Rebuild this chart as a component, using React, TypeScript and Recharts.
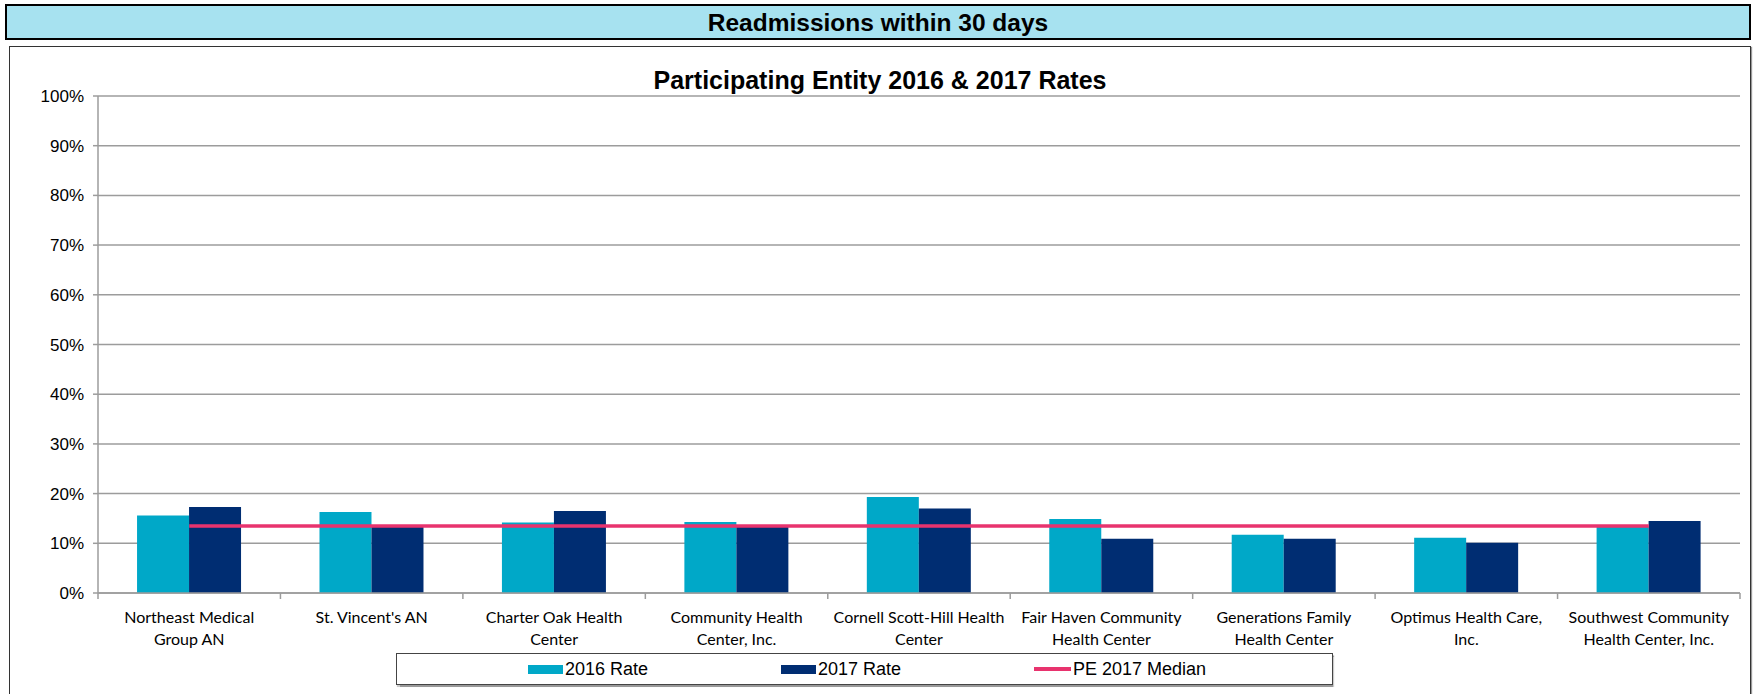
import { Bar, CartesianGrid, ComposedChart, Line, XAxis, YAxis } from 'recharts'

const categories = [
  'Northeast Medical\nGroup AN',
  "St. Vincent's AN",
  'Charter Oak Health\nCenter',
  'Community Health\nCenter, Inc.',
  'Cornell Scott-Hill Health\nCenter',
  'Fair Haven Community\nHealth Center',
  'Generations Family\nHealth Center',
  'Optimus Health Care,\nInc.',
  'Southwest Community\nHealth Center, Inc.',
]
const rate2016 = [15.6, 16.3, 14.2, 14.3, 19.3, 14.9, 11.7, 11.1, 13.4]
const rate2017 = [17.3, 13.3, 16.5, 13.3, 17.0, 10.9, 10.9, 10.1, 14.5]
const median2017 = [13.5, 13.5, 13.5, 13.5, 13.5, 13.5, 13.5, 13.5, 13.5]
const yTicks = [0, 10, 20, 30, 40, 50, 60, 70, 80, 90, 100]

const C2016 = '#00A8C8'
const C2017 = '#002D72'
const CMED = '#E8336E'
const GRID = '#9C9C9C'

const W = 1754
const H = 694
const PLOT_LEFT = 98
const PLOT_RIGHT = 1740
const PLOT_TOP = 96
const PLOT_BOTTOM = 593
const BAND = (PLOT_RIGHT - PLOT_LEFT) / categories.length

const data = categories.map((name, i) => ({
  name,
  r2016: rate2016[i],
  r2017: rate2017[i],
  median: median2017[i],
}))

const legendItems = [
  { label: '2016 Rate', color: C2016, type: 'rect' },
  { label: '2017 Rate', color: C2017, type: 'rect' },
  { label: 'PE 2017 Median', color: CMED, type: 'line' },
]

function CategoryTick(props: any) {
  const { x, y, payload, index } = props
  const lines = String(payload.value).split('\n')
  const last = index === categories.length - 1
  return (
    <g>
      <line x1={x - BAND / 2} x2={x - BAND / 2} y1={y} y2={y + 6} stroke={GRID} strokeWidth={1.5} />
      {last && <line x1={x + BAND / 2} x2={x + BAND / 2} y1={y} y2={y + 6} stroke={GRID} strokeWidth={1.5} />}
      {lines.map((t, i) => (
        <text
          key={i}
          x={x}
          y={y + 30 + i * 22}
          textAnchor="middle"
          fontFamily="Lato, 'Open Sans', sans-serif"
          fontSize={16}
          fill="#000"
        >
          {t}
        </text>
      ))}
    </g>
  )
}

export default function App() {
  return (
    <div
      style={{
        position: 'absolute',
        left: 0,
        top: 0,
        width: W,
        height: H,
        overflow: 'hidden',
        background: '#fff',
        fontFamily: "'Liberation Sans', Arial, sans-serif",
      }}
    >
      {/* header band */}
      <div
        style={{
          position: 'absolute',
          left: 5,
          top: 4,
          width: 1746,
          height: 36,
          boxSizing: 'border-box',
          border: '2px solid #000',
          background: '#A7E2F0',
          textAlign: 'center',
          fontWeight: 'bold',
          fontSize: 24.5,
          lineHeight: '33px',
          color: '#000',
        }}
      >
        Readmissions within 30 days
      </div>

      {/* chart frame */}
      <div
        style={{
          position: 'absolute',
          left: 9,
          top: 46,
          width: 1742,
          height: 720,
          boxSizing: 'border-box',
          border: '1.5px solid #333',
          boxShadow: '1px 1px 1px #999',
        }}
      />

      <div
        style={{
          position: 'absolute',
          left: 9,
          top: 65,
          width: 1742,
          textAlign: 'center',
          fontWeight: 'bold',
          fontSize: 25,
          lineHeight: '30px',
          color: '#000',
        }}
      >
        Participating Entity 2016 &amp; 2017 Rates
      </div>

      <div style={{ position: 'absolute', left: 0, top: 0 }}>
        <ComposedChart
          width={W}
          height={H}
          data={data}
          margin={{ top: PLOT_TOP, right: W - PLOT_RIGHT, bottom: H - PLOT_BOTTOM - 60, left: 0 }}
          barCategoryGap="21.4%"
          barGap={0}
        >
          <CartesianGrid vertical={false} stroke={GRID} strokeWidth={1.5} />
          <XAxis
            dataKey="name"
            height={60}
            interval={0}
            tickLine={false}
            tickSize={0}
            tickMargin={0}
            axisLine={{ stroke: GRID, strokeWidth: 1.5 }}
            tick={<CategoryTick />}
          />
          <YAxis
            width={PLOT_LEFT}
            domain={[0, 100]}
            ticks={yTicks}
            interval={0}
            tickSize={5}
            tickMargin={9}
            tickFormatter={(v: number) => `${v}%`}
            axisLine={{ stroke: GRID, strokeWidth: 1.5 }}
            tickLine={{ stroke: GRID, strokeWidth: 1.5 }}
            tick={{ fill: '#000', fontSize: 17, fontFamily: "'Liberation Sans', Arial, sans-serif" }}
          />
          <Bar dataKey="r2016" name="2016 Rate" fill={C2016} isAnimationActive={false} />
          <Bar dataKey="r2017" name="2017 Rate" fill={C2017} isAnimationActive={false} />
          <Line
            dataKey="median"
            name="PE 2017 Median"
            type="linear"
            stroke={CMED}
            strokeWidth={3.5}
            dot={false}
            activeDot={false}
            isAnimationActive={false}
          />
        </ComposedChart>
      </div>

      {/* legend */}
      <div
        style={{
          position: 'absolute',
          left: 396,
          top: 653,
          width: 937,
          height: 32,
          boxSizing: 'border-box',
          border: '1.5px solid #444',
          boxShadow: '1px 1.5px 1px #999',
          background: '#fff',
          display: 'flex',
          alignItems: 'center',
          paddingLeft: 131,
          fontSize: 18,
          color: '#000',
        }}
      >
        {legendItems.map((it) => (
          <div key={it.label} style={{ width: 253, display: 'flex', alignItems: 'center' }}>
            {it.type === 'rect' ? (
              <span style={{ display: 'inline-block', width: 35, height: 9, background: it.color }} />
            ) : (
              <span style={{ display: 'inline-block', width: 37, height: 4, background: it.color }} />
            )}
            <span style={{ marginLeft: 2, whiteSpace: 'nowrap' }}>{it.label}</span>
          </div>
        ))}
      </div>
    </div>
  )
}
